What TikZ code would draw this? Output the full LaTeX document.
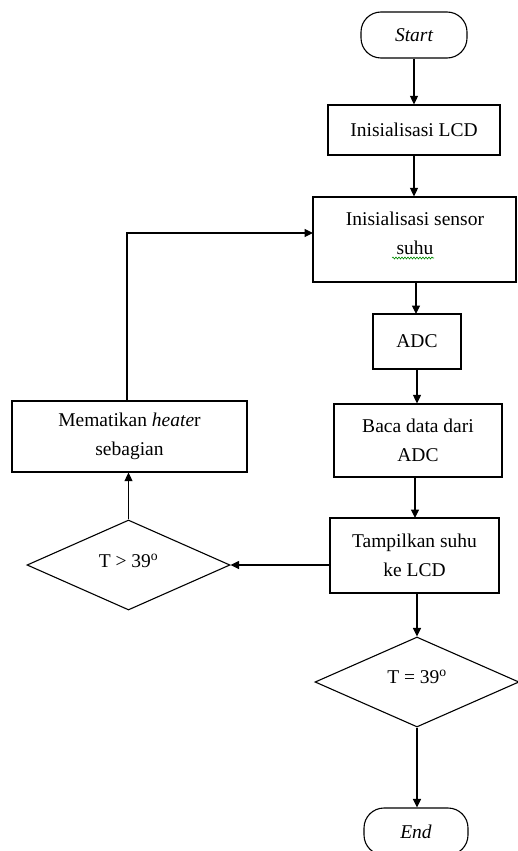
\documentclass[tikz,border=0pt]{standalone}
\usepackage{fontspec}
\setmainfont{Liberation Serif}
\usetikzlibrary{shapes.geometric,arrows.meta,decorations.pathmorphing}
\begin{document}
\begin{tikzpicture}[x=1pt,y=-1pt,
  every node/.style={font=\fontsize{19.5}{29}\selectfont, text=black},
  box/.style={draw, line width=1.2pt, rectangle, inner sep=0pt, align=center},
  term/.style={draw, line width=1.1pt, rectangle, rounded corners=20pt, inner sep=0pt},
  dec/.style={draw, line width=1.1pt, diamond, inner sep=0pt},
  txt/.style={inner sep=0pt, align=center},
  conn/.style={line width=1.1pt, -{Triangle[length=8.5pt,width=8pt]}},
  plain/.style={line width=1.1pt}]
\useasboundingbox (0,0) rectangle (518,851);
\clip (0,0) rectangle (518,851);
\fill[white] (0,0) rectangle (518,851);

\node[term, minimum width=106pt, minimum height=46pt] (start) at (414,35) {\itshape Start};
\node[box, minimum width=172pt, minimum height=50pt] (lcd) at (414,130) {Inisialisasi LCD};
\node[box, minimum width=203pt, minimum height=85pt] (sensor) at (414.5,239.5) {};
\node[txt] (sensorT) at (415,233) {Inisialisasi sensor\\suhu};
\node[box, minimum width=88pt, minimum height=55pt] (adc) at (417,341.5) {ADC};
\node[box, minimum width=168pt, minimum height=73pt] (baca) at (418,440.5) {Baca data dari\\ADC};
\node[box, minimum width=169pt, minimum height=75pt] (tamp) at (414.5,555.5) {Tampilkan suhu\\ke LCD};
\node[dec, minimum width=204pt, minimum height=90pt] (eq) at (417,682) {};
\node[txt] (eqT) at (417,677) {T = 39\textsuperscript{o}};
\node[term, minimum width=104pt, minimum height=47pt] (end) at (416,831.5) {\itshape End};
\node[box, minimum width=235pt, minimum height=71pt] (mem) at (129.5,436.5) {Mematikan \textit{heate}r\\sebagian};
\node[dec, minimum width=203pt, minimum height=90pt] (gt) at (128.5,565) {};
\node[txt] (gtT) at (128.5,561) {T > 39\textsuperscript{o}};

\draw[green!55!black, line width=0.6pt, decorate, decoration={snake, amplitude=1pt, segment length=3pt}] (392,258) -- (434,258);

\coordinate (c1) at (313,233);
\coordinate (c2) at (330,565);

\draw[conn] (start.south) -- (start.south |- lcd.north);
\draw[conn] (lcd.south) -- (lcd.south |- sensor.north);
\draw[conn] (416,282) -- (416,314);
\draw[conn] (adc.south) -- (adc.south |- baca.north);
\draw[conn] (415,477) -- (415,518);
\draw[conn] (417,593) -- (eq.north);
\draw[conn] (eq.south) -- (eq.south |- end.north);
\draw[conn] (c2) -- (gt.east);
\draw[conn] (gt.north) -- (gt.north |- mem.south);
\draw[conn] (127,401) |- (c1);
\end{tikzpicture}
\end{document}
